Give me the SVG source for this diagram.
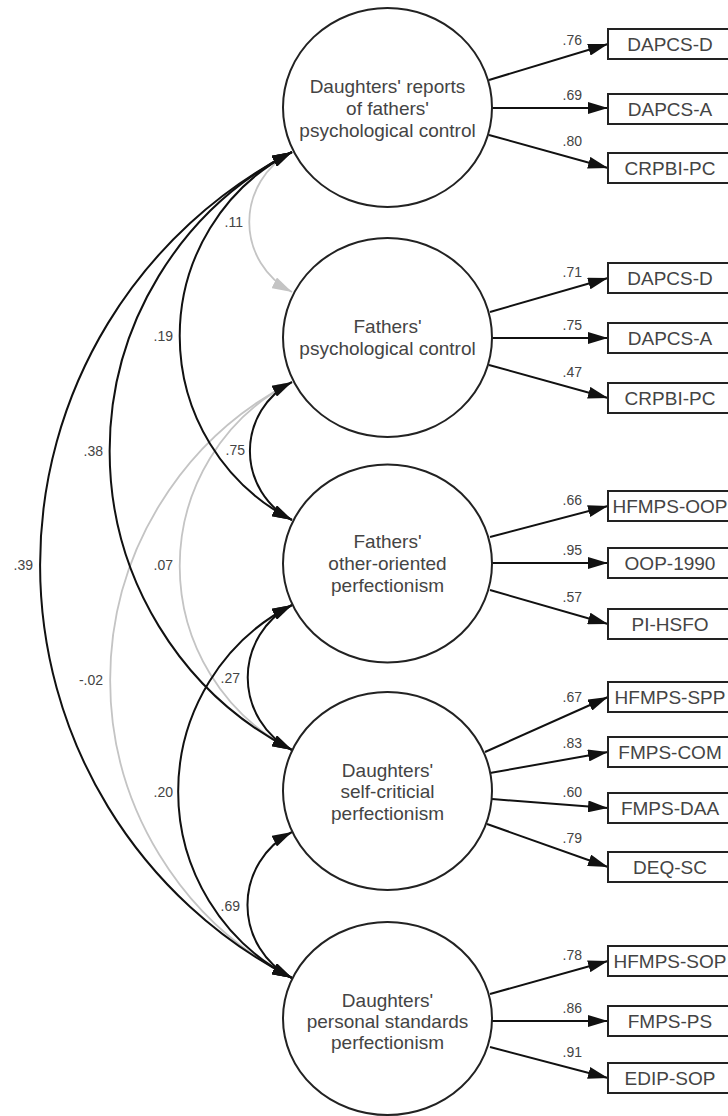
<svg xmlns="http://www.w3.org/2000/svg" width="728" height="1116" viewBox="0 0 728 1116">
<style>
.lat{fill:#fff;stroke:#222;stroke-width:2}
.box{fill:#fff;stroke:#222;stroke-width:2}
.lt{font-family:"Liberation Sans",Arial,sans-serif;font-size:19px;fill:#444;text-anchor:middle}
.bt{font-family:"Liberation Sans",Arial,sans-serif;font-size:19px;fill:#444;text-anchor:middle}
.num{font-family:"Liberation Sans",Arial,sans-serif;font-size:14px;fill:#444;text-anchor:end}
.ar{fill:none;stroke:#111;stroke-width:2;marker-end:url(#ah)}
.cv{fill:none;stroke:#111;stroke-width:2;marker-start:url(#ah);marker-end:url(#ah)}
.cg{fill:none;stroke:#c4c4c4;stroke-width:1.8;marker-start:url(#ag);marker-end:url(#ag)}
</style>
<defs>
<marker id="ah" viewBox="0 0 20 12" refX="20" refY="6" markerWidth="20" markerHeight="12" markerUnits="userSpaceOnUse" orient="auto-start-reverse"><path d="M0,0 L20,6 L0,12 z" fill="#111"/></marker>
<marker id="ag" viewBox="0 0 20 12" refX="20" refY="6" markerWidth="20" markerHeight="12" markerUnits="userSpaceOnUse" orient="auto-start-reverse"><path d="M0,0 L20,6 L0,12 z" fill="#c4c4c4"/></marker>
</defs>
<g id="connectors">
<path class="cg" d="M292,152 A78.7,78.7 0 0 0 292,292"/>
<path class="cg" d="M292,382 A206.9,206.9 0 0 0 292,750"/>
<path class="cg" d="M292,382 A335.1,335.1 0 0 0 292,978"/>
<path class="cv" d="M292,152 A206.9,206.9 0 0 0 292,520"/>
<path class="cv" d="M292,152 A336.3,336.3 0 0 0 292,750"/>
<path class="cv" d="M292,152 A464.5,464.5 0 0 0 292,978"/>
<path class="cv" d="M292,382 A77.6,77.6 0 0 0 292,520"/>
<path class="cv" d="M292,605 A81.5,81.5 0 0 0 292,750"/>
<path class="cv" d="M292,605 A209.7,209.7 0 0 0 292,978"/>
<path class="cv" d="M292,832 A82.1,82.1 0 0 0 292,978"/>
<text class="num" x="243" y="227">.11</text>
<text class="num" x="173" y="341">.19</text>
<text class="num" x="103" y="456">.38</text>
<text class="num" x="33" y="570">.39</text>
<text class="num" x="245" y="455">.75</text>
<text class="num" x="173" y="570">.07</text>
<text class="num" x="103" y="685">-.02</text>
<text class="num" x="240" y="683">.27</text>
<text class="num" x="173" y="797">.20</text>
<text class="num" x="240" y="911">.69</text>
<path class="ar" d="M489,80 L608,44"/>
<path class="ar" d="M492,108 L608,108"/>
<path class="ar" d="M489,135 L608,168"/>
<path class="ar" d="M490,312 L608,278"/>
<path class="ar" d="M492,338 L608,338"/>
<path class="ar" d="M489,365 L608,398"/>
<path class="ar" d="M490,537 L608,506"/>
<path class="ar" d="M492,563 L608,563"/>
<path class="ar" d="M490,590 L608,624"/>
<path class="ar" d="M485,752 L608,697"/>
<path class="ar" d="M490,773 L608,752"/>
<path class="ar" d="M492,799 L608,808"/>
<path class="ar" d="M487,824 L608,867"/>
<path class="ar" d="M490,994 L608,961"/>
<path class="ar" d="M492,1021 L608,1021"/>
<path class="ar" d="M490,1047 L608,1078"/>
<text class="num" x="582" y="45">.76</text>
<text class="num" x="582" y="100">.69</text>
<text class="num" x="582" y="146">.80</text>
<text class="num" x="582" y="277">.71</text>
<text class="num" x="582" y="330">.75</text>
<text class="num" x="582" y="377">.47</text>
<text class="num" x="582" y="505">.66</text>
<text class="num" x="582" y="555">.95</text>
<text class="num" x="582" y="602">.57</text>
<text class="num" x="582" y="702">.67</text>
<text class="num" x="582" y="748">.83</text>
<text class="num" x="582" y="797">.60</text>
<text class="num" x="582" y="843">.79</text>
<text class="num" x="582" y="960">.78</text>
<text class="num" x="582" y="1013">.86</text>
<text class="num" x="582" y="1057">.91</text>
</g>
<g id="latent-drpc"><ellipse class="lat" cx="387.5" cy="107.5" rx="104.5" ry="99.5"/><text class="lt" x="387.5" y="93">Daughters' reports</text><text class="lt" x="387.5" y="115">of fathers'</text><text class="lt" x="387.5" y="137">psychological control</text></g>
<g id="latent-fpc"><ellipse class="lat" cx="387.5" cy="337.5" rx="104.5" ry="99.5"/><text class="lt" x="387.5" y="333">Fathers'</text><text class="lt" x="387.5" y="355">psychological control</text></g>
<g id="latent-foop"><ellipse class="lat" cx="387.5" cy="563.5" rx="104.5" ry="99"/><text class="lt" x="387.5" y="548">Fathers'</text><text class="lt" x="387.5" y="570">other-oriented</text><text class="lt" x="387.5" y="592">perfectionism</text></g>
<g id="latent-dscp"><ellipse class="lat" cx="387.5" cy="791" rx="104.5" ry="99"/><text class="lt" x="387.5" y="777">Daughters'</text><text class="lt" x="387.5" y="798">self-criticial</text><text class="lt" x="387.5" y="820">perfectionism</text></g>
<g id="latent-dpsp"><ellipse class="lat" cx="387.5" cy="1018.5" rx="104.5" ry="96.5"/><text class="lt" x="387.5" y="1007">Daughters'</text><text class="lt" x="387.5" y="1028">personal standards</text><text class="lt" x="387.5" y="1049">perfectionism</text></g>
<g id="box-1"><rect class="box" x="608" y="29" width="130" height="30"/><text class="bt" x="670" y="51">DAPCS-D</text></g>
<g id="box-2"><rect class="box" x="608" y="94" width="130" height="30"/><text class="bt" x="670" y="116">DAPCS-A</text></g>
<g id="box-3"><rect class="box" x="608" y="153" width="130" height="30"/><text class="bt" x="670" y="175">CRPBI-PC</text></g>
<g id="box-4"><rect class="box" x="608" y="263" width="130" height="30"/><text class="bt" x="670" y="285">DAPCS-D</text></g>
<g id="box-5"><rect class="box" x="608" y="323" width="130" height="30"/><text class="bt" x="670" y="345">DAPCS-A</text></g>
<g id="box-6"><rect class="box" x="608" y="383" width="130" height="30"/><text class="bt" x="670" y="405">CRPBI-PC</text></g>
<g id="box-7"><rect class="box" x="608" y="491" width="130" height="30"/><text class="bt" x="670" y="513">HFMPS-OOP</text></g>
<g id="box-8"><rect class="box" x="608" y="548" width="130" height="30"/><text class="bt" x="670" y="570">OOP-1990</text></g>
<g id="box-9"><rect class="box" x="608" y="609" width="130" height="30"/><text class="bt" x="670" y="631">PI-HSFO</text></g>
<g id="box-10"><rect class="box" x="608" y="682" width="130" height="30"/><text class="bt" x="670" y="704">HFMPS-SPP</text></g>
<g id="box-11"><rect class="box" x="608" y="737" width="130" height="30"/><text class="bt" x="670" y="759">FMPS-COM</text></g>
<g id="box-12"><rect class="box" x="608" y="793" width="130" height="30"/><text class="bt" x="670" y="815">FMPS-DAA</text></g>
<g id="box-13"><rect class="box" x="608" y="852" width="130" height="30"/><text class="bt" x="670" y="874">DEQ-SC</text></g>
<g id="box-14"><rect class="box" x="608" y="946" width="130" height="30"/><text class="bt" x="670" y="968">HFMPS-SOP</text></g>
<g id="box-15"><rect class="box" x="608" y="1006" width="130" height="30"/><text class="bt" x="670" y="1028">FMPS-PS</text></g>
<g id="box-16"><rect class="box" x="608" y="1063" width="130" height="30"/><text class="bt" x="670" y="1085">EDIP-SOP</text></g>
</svg>
